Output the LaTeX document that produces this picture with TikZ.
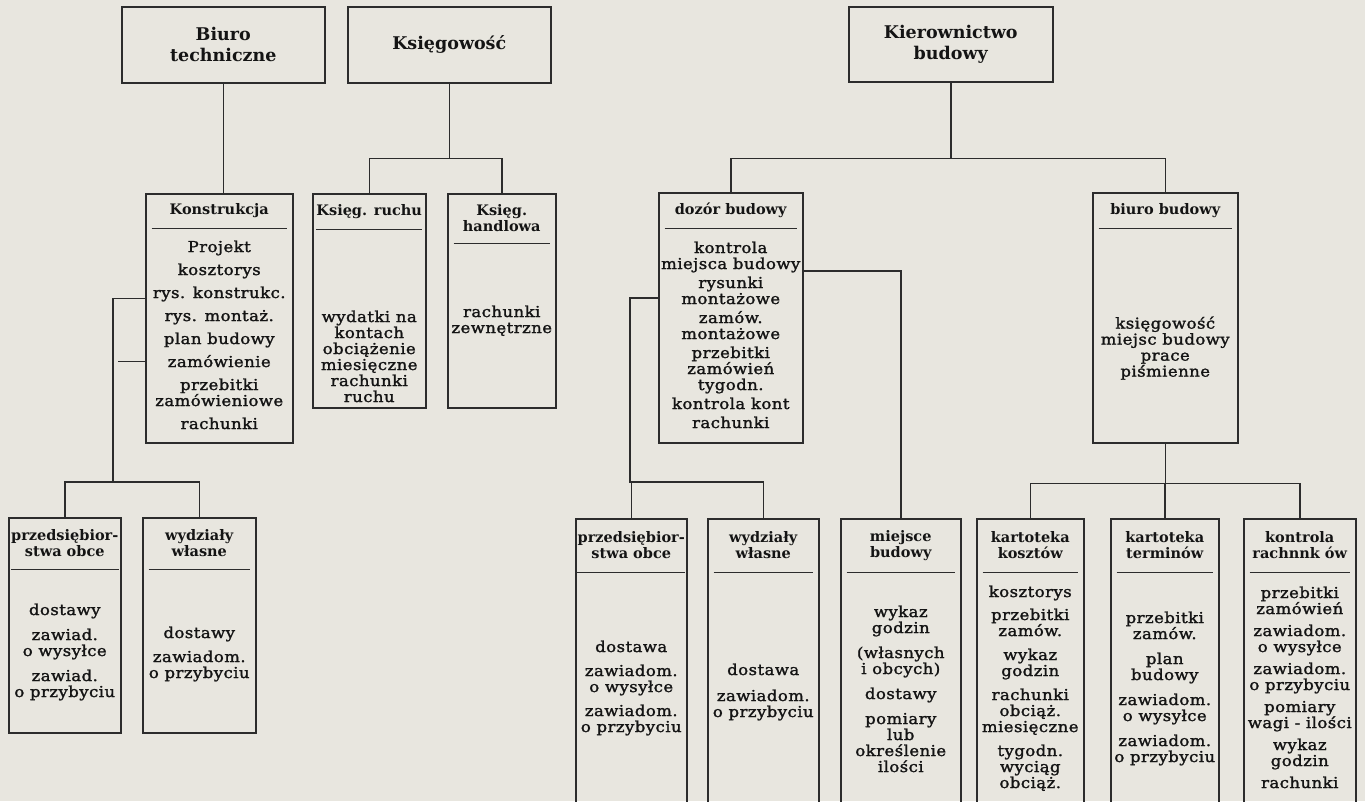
\documentclass[tikz,border=0pt]{standalone}
\usepackage{fontspec}
\setmainfont{DejaVu Serif}
\newfontfamily\listfont{DejaVu Serif}[FakeStretch=1.1,LetterSpace=3,FakeBold=1.6]
\usetikzlibrary{positioning}
\definecolor{Paper}{HTML}{E8E6DF}
\definecolor{Ink}{HTML}{141414}
\definecolor{Rule}{HTML}{2C2C2C}

\begin{document}
\begin{tikzpicture}[
    x=1pt, y=-1pt,
    frame/.style={rectangle, draw=Rule, line width=1.5pt, anchor=north west, inner sep=0pt},
    top/.style={frame, align=center, text=Ink, font=\fontsize{17.5}{21}\selectfont\bfseries},
    head/.style={rectangle, anchor=north, inner sep=0pt, align=center, text=Ink, font=\fontsize{14.5}{16}\selectfont\bfseries},
    body/.style={rectangle, inner sep=0pt, align=center, text=Ink, font=\listfont\fontsize{15}{16}\selectfont},
    link/.style={draw=Rule, line width=1.5pt},
]
\useasboundingbox (0,0) rectangle (1365,801);
\fill[Paper] (0,0) rectangle (1365,801);
\clip (0,0) rectangle (1365,801);

% Top level
\node[top, minimum width=203pt, minimum height=76pt] (biuro) at (121,6) {Biuro\\techniczne};
\node[top, minimum width=203pt, minimum height=76pt] (ksieg) at (347,6) {Księgowość};
\node[top, minimum width=204pt, minimum height=75pt] (kier) at (848,6) {Kierownictwo\\budowy};

% Second level
\node[frame, minimum width=147pt, minimum height=249pt] (konst) at (145,193) {};
\node[head, minimum width=135pt, minimum height=35pt] (konst-h) at (konst.north) {Konstrukcja};
\node[body, below=12pt of konst-h] (konst-b) {Projekt\\[7pt]kosztorys\\[7pt]rys. konstrukc.\\[7pt]rys. montaż.\\[7pt]plan budowy\\[7pt]zamówienie\\[7pt]przebitki\\zamówieniowe\\[7pt]rachunki};

\node[frame, minimum width=113pt, minimum height=214pt] (ruch) at (312,193) {};
\node[head, minimum width=101pt, minimum height=36pt] (ruch-h) at (ruch.north) {Księg. ruchu};
\node[body, below=81pt of ruch-h] (ruch-b) {wydatki na\\kontach\\obciążenie\\miesięczne\\rachunki\\ruchu};

\node[frame, minimum width=108pt, minimum height=214pt] (handl) at (447,193) {};
\node[head, minimum width=96pt, minimum height=50pt] (handl-h) at (handl.north) {Księg.\\handlowa};
\node[body, below=62pt of handl-h] (handl-b) {rachunki\\zewnętrzne};

\node[frame, minimum width=144pt, minimum height=250pt] (dozor) at (658,192) {};
\node[head, minimum width=132pt, minimum height=36pt] (dozor-h) at (dozor.north) {dozór budowy};
\node[body, below=13pt of dozor-h] (dozor-b) {kontrola\\miejsca budowy\\[3pt]rysunki\\montażowe\\[3pt]zamów.\\montażowe\\[3pt]przebitki\\zamówień\\tygodn.\\[3pt]kontrola kont\\[3pt]rachunki};

\node[frame, minimum width=145pt, minimum height=250pt] (bbud) at (1092,192) {};
\node[head, minimum width=133pt, minimum height=36pt] (bbud-h) at (bbud.north) {biuro budowy};
\node[body, below=88pt of bbud-h] (bbud-b) {księgowość\\miejsc budowy\\prace\\piśmienne};

% Third level, left
\node[frame, minimum width=112pt, minimum height=215pt] (obce1) at (8,517) {};
\node[head, minimum width=100pt, minimum height=52pt] (obce1-h) at (obce1.north) {przedsiębior-\\stwa obce};
\node[body, below=34pt of obce1-h] (obce1-b) {dostawy\\[9pt]zawiad.\\o wysyłce\\[9pt]zawiad.\\o przybyciu};

\node[frame, minimum width=113pt, minimum height=215pt] (wlas1) at (142,517) {};
\node[head, minimum width=101pt, minimum height=52pt] (wlas1-h) at (wlas1.north) {wydziały\\własne};
\node[body, below=57pt of wlas1-h] (wlas1-b) {dostawy\\[8pt]zawiadom.\\o przybyciu};

% Third level, right
\node[frame, minimum width=111pt, minimum height=297pt] (obce2) at (575,518) {};
\node[head, minimum width=99pt, minimum height=54pt] (obce2-h) at (obce2.north) {przedsiębior-\\stwa obce};
\node[body, below=68pt of obce2-h] (obce2-b) {dostawa\\[8pt]zawiadom.\\o wysyłce\\[8pt]zawiadom.\\o przybyciu};

\node[frame, minimum width=111pt, minimum height=297pt] (wlas2) at (707,518) {};
\node[head, minimum width=99pt, minimum height=54pt] (wlas2-h) at (wlas2.north) {wydziały\\własne};
\node[body, below=91pt of wlas2-h] (wlas2-b) {dostawa\\[10pt]zawiadom.\\o przybyciu};

\node[frame, minimum width=120pt, minimum height=297pt] (miejsce) at (840,518) {};
\node[head, minimum width=108pt, minimum height=54pt] (miejsce-h) at (miejsce.north) {miejsce\\budowy};
\node[body, below=33pt of miejsce-h] (miejsce-b) {wykaz\\godzin\\[9pt](własnych\\i obcych)\\[9pt]dostawy\\[9pt]pomiary\\lub\\określenie\\ilości};

\node[frame, minimum width=107pt, minimum height=297pt] (kkoszt) at (976,518) {};
\node[head, minimum width=95pt, minimum height=54pt] (kkoszt-h) at (kkoszt.north) {kartoteka\\kosztów};
\node[body, below=13pt of kkoszt-h] (kkoszt-b) {kosztorys\\[7pt]przebitki\\zamów.\\[8pt]wykaz\\godzin\\[8pt]rachunki\\obciąż.\\miesięczne\\[8pt]tygodn.\\wyciąg\\obciąż.};

\node[frame, minimum width=108pt, minimum height=297pt] (kterm) at (1110,518) {};
\node[head, minimum width=96pt, minimum height=54pt] (kterm-h) at (kterm.north) {kartoteka\\terminów};
\node[body, below=39pt of kterm-h] (kterm-b) {przebitki\\zamów.\\[9pt]plan\\budowy\\[9pt]zawiadom.\\o wysyłce\\[9pt]zawiadom.\\o przybyciu};

\node[frame, minimum width=112pt, minimum height=297pt] (krach) at (1243,518) {};
\node[head, minimum width=100pt, minimum height=54pt] (krach-h) at (krach.north) {kontrola\\rachnnk ów};
\node[body, below=14pt of krach-h] (krach-b) {przebitki\\zamówień\\[6pt]zawiadom.\\o wysyłce\\[6pt]zawiadom.\\o przybyciu\\[6pt]pomiary\\wagi - ilości\\[6pt]wykaz\\godzin\\[6pt]rachunki};

% Header rules
\foreach \n in {konst, ruch, handl, dozor, bbud, obce1, wlas1, obce2, wlas2, miejsce, kkoszt, kterm, krach}
    \draw[link] (\n-h.south west) -- (\n-h.south east);

% Connectors
\draw[link] (biuro.south) -- (biuro.south |- konst.north);

\draw[link] (ksieg.south) -- ++(0,75) coordinate (ksieg-j);
\draw[link] (ruch.north) -- (ruch.north |- ksieg-j) -- (handl.north |- ksieg-j) -- (handl.north);

\draw[link] (kier.south) -- ++(0,76) coordinate (kier-j);
\draw[link] (dozor.north) -- (dozor.north |- kier-j) -- (bbud.north |- kier-j) -- (bbud.north);

\draw[link] (obce1.north) -- ++(0,-35) coordinate (konst-j) -- (wlas1.north |- konst-j) -- (wlas1.north);
\draw[link] ([yshift=20pt]konst.west) -- ++(-32,0) |- (konst-j);
\draw[link] ([yshift=-43pt]konst.west) -- ++(-27,0);

\draw[link] (obce2.north) -- ++(0,-36) coordinate (dozor-j) -- (wlas2.north |- dozor-j) -- (wlas2.north);
\draw[link] ([yshift=20pt]dozor.west) -- ++(-28,0) |- (dozor-j);
\draw[link] ([yshift=47pt]dozor.east) -| (miejsce.north);

\draw[link] (bbud.south) -- ++(0,40) coordinate (bbud-j);
\draw[link] (kkoszt.north) -- (kkoszt.north |- bbud-j) -- (krach.north |- bbud-j) -- (krach.north);
\draw[link] (kterm.north) -- (kterm.north |- bbud-j);

\end{tikzpicture}
\end{document}
